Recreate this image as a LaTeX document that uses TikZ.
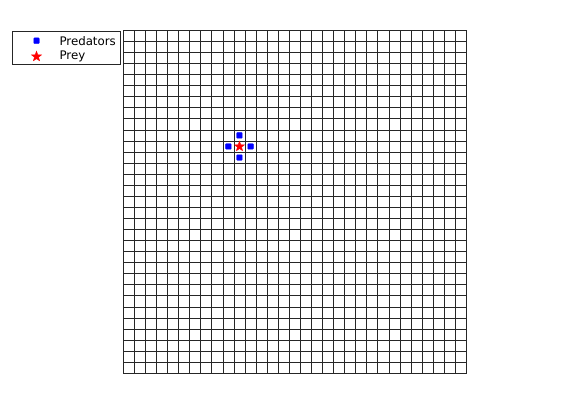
\documentclass[tikz,border=0pt]{standalone}
\usepackage{fontspec}
\setmainfont{DejaVu Sans}
\usetikzlibrary{shapes.geometric}
\tikzset{
  cellline/.style={line width=0.7pt, black!85},
  predmark/.style={rectangle, fill=blue, draw=blue, inner sep=0pt, minimum size=5.5pt, rounded corners=0.6pt},
  preymark/.style={star, star points=5, star point ratio=2.4, fill=red, draw=red, inner sep=0pt, minimum size=10.5pt},
  legtext/.style={anchor=west, inner sep=0pt, font=\fontsize{11.8}{13}\selectfont}
}
\begin{document}
\begin{tikzpicture}[x=1pt, y=1pt, line cap=rect]
  \useasboundingbox[fill=white] (0,0) rectangle (570,420);

  % Gitter
  \begin{scope}[shift={(123.3,46.7)}, x=11.065pt, y=11.065pt]
    \foreach \i in {0,...,31} {
      \draw[cellline] (\i,0) -- (\i,31);
      \draw[cellline] (0,\i) -- (31,\i);
    }

    % Beute
    \node[preymark] (prey) at (10.5,20.5) {};

    % Raeuber
    \node[predmark] (predN) at (10.5,21.5) {};
    \node[predmark] (predS) at (10.5,19.5) {};
    \node[predmark] (predW) at (9.5,20.5) {};
    \node[predmark] (predE) at (11.5,20.5) {};
  \end{scope}

  % Legende
  \draw[line width=0.7pt, black!85] (12.3,356) rectangle (120.3,388.3);
  \node[predmark] (legpred) at (36.5,379.3) {};
  \node[preymark] (legprey) at (36.5,363.5) {};
  \node[legtext] (predlabel) at (59.3,379.3) {Predators};
  \node[legtext] (preylabel) at (59.3,363.3) {Prey};
\end{tikzpicture}
\end{document}
